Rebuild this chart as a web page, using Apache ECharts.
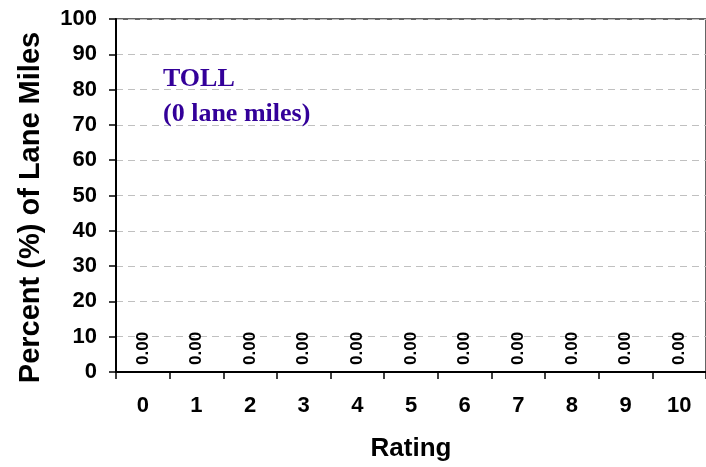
<!DOCTYPE html>
<html>
<head>
<meta charset="utf-8">
<script src="https://cdn.jsdelivr.net/npm/echarts@6/dist/echarts.min.js"></script>
<style>
html,body{margin:0;padding:0;background:#fff;}
#chart{width:706px;height:467px;}
</style>
</head>
<body>
<div id="chart"></div>
<script>
const categories = ['0','1','2','3','4','5','6','7','8','9','10'];
const values = [0,0,0,0,0,0,0,0,0,0,0];
const yTicks = {min: 0, max: 100, interval: 10};
const titleLines = ['TOLL', '(0 lane miles)'];
const xName = 'Rating';
const yName = 'Percent (%) of Lane Miles';

const chart = echarts.init(document.getElementById('chart'));
chart.setOption({
  animation: false,
  backgroundColor: '#fff',
  title: {
    text: titleLines.join('\n'),
    left: 163,
    top: 62,
    padding: 0,
    textStyle: {
      fontFamily: 'Liberation Serif',
      fontWeight: 'bold',
      fontSize: 26,
      lineHeight: 35,
      color: '#330099'
    }
  },
  grid: {
    left: 116, top: 19, right: -1, bottom: 93,
    show: true, borderColor: '#333', borderWidth: 1.5, backgroundColor: 'transparent'
  },
  xAxis: {
    type: 'category',
    data: categories,
    name: xName,
    nameLocation: 'middle',
    nameGap: 64,
    nameTextStyle: {fontFamily: 'Liberation Sans', fontWeight: 'bold', fontSize: 26, color: '#000'},
    axisLine: {lineStyle: {color: '#000', width: 2}},
    axisTick: {show: true, length: 7, lineStyle: {color: '#000', width: 1.5}},
    axisLabel: {margin: 23, fontFamily: 'Liberation Sans', fontWeight: 'bold', fontSize: 22, color: '#000'},
    splitLine: {show: false}
  },
  yAxis: {
    type: 'value',
    min: yTicks.min, max: yTicks.max, interval: yTicks.interval,
    name: yName,
    nameLocation: 'middle',
    nameGap: 71,
    nameTextStyle: {fontFamily: 'Liberation Sans', fontWeight: 'bold', fontSize: 29, color: '#000', padding: [0, 24, 0, 0]},
    axisLine: {show: true, lineStyle: {color: '#000', width: 2}},
    axisTick: {show: true, length: 7, lineStyle: {color: '#000', width: 1.5}},
    axisLabel: {margin: 19, fontFamily: 'Liberation Sans', fontWeight: 'bold', fontSize: 22, color: '#000'},
    splitLine: {show: true, lineStyle: {color: '#c0c0c0', type: [7, 5], width: 1}}
  },
  series: [{
    type: 'bar',
    data: values,
    barWidth: '50%',
    itemStyle: {color: '#3333cc'},
    label: {
      show: true,
      position: 'insideBottom',
      rotate: 90,
      align: 'left',
      verticalAlign: 'middle',
      distance: 7,
      formatter: p => p.value.toFixed(2),
      fontFamily: 'Liberation Sans',
      fontWeight: 'bold',
      fontSize: 17,
      color: '#000'
    }
  }]
});
</script>
</body>
</html>
